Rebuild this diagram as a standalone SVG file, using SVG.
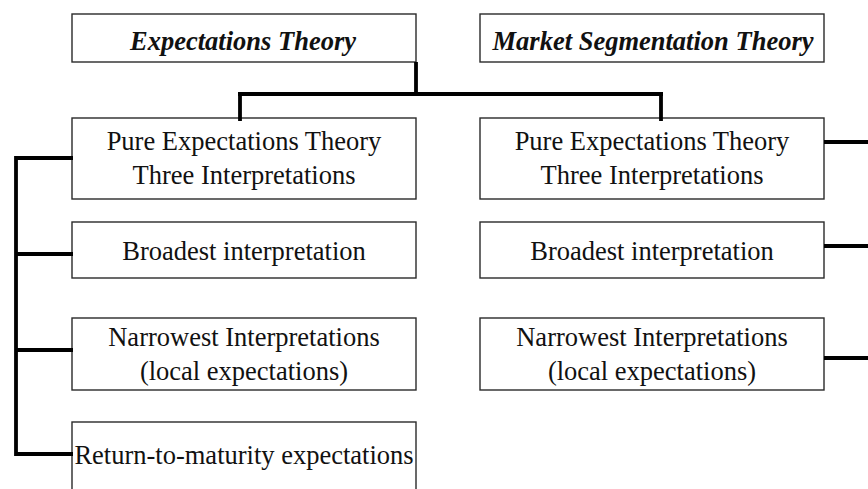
<svg xmlns="http://www.w3.org/2000/svg" width="868" height="489" viewBox="0 0 868 489">
<style>
.box{fill:#fff;stroke:#2a2a2a;stroke-width:1.4}
.t{font-family:"Liberation Serif","Times New Roman",serif;font-size:26.5px;fill:#111;text-anchor:middle}
.h{font-weight:bold;font-style:italic}
.c{fill:none;stroke:#000;stroke-width:3.8;stroke-linecap:butt;stroke-linejoin:miter}
</style>
<rect width="868" height="489" fill="#fff"/>
<g id="n-expectations">
<rect class="box" x="72" y="14" width="344" height="48"/>
<text class="t h" x="243" y="50">Expectations Theory</text>
</g>
<g id="n-market">
<rect class="box" x="480" y="14" width="344" height="48"/>
<text class="t h" x="653" y="50">Market Segmentation Theory</text>
</g>
<g id="n-pure-left">
<rect class="box" x="72" y="118" width="344" height="81"/>
<text class="t" x="244" y="150">Pure Expectations Theory</text>
<text class="t" x="244" y="184">Three Interpretations</text>
</g>
<g id="n-pure-right">
<rect class="box" x="480" y="118" width="344" height="81"/>
<text class="t" x="652" y="150">Pure Expectations Theory</text>
<text class="t" x="652" y="184">Three Interpretations</text>
</g>
<g id="n-broad-left">
<rect class="box" x="72" y="222" width="344" height="56"/>
<text class="t" x="244" y="260">Broadest interpretation</text>
</g>
<g id="n-broad-right">
<rect class="box" x="480" y="222" width="344" height="56"/>
<text class="t" x="652" y="260">Broadest interpretation</text>
</g>
<g id="n-narrow-left">
<rect class="box" x="72" y="318" width="344" height="72"/>
<text class="t" x="244" y="346">Narrowest Interpretations</text>
<text class="t" x="244" y="380">(local expectations)</text>
</g>
<g id="n-narrow-right">
<rect class="box" x="480" y="318" width="344" height="72"/>
<text class="t" x="652" y="346">Narrowest Interpretations</text>
<text class="t" x="652" y="380">(local expectations)</text>
</g>
<g id="n-return">
<rect class="box" x="72" y="422" width="344" height="80"/>
<text class="t" x="244" y="464">Return-to-maturity expectations</text>
</g>
<g id="connectors">
<path class="c" d="M416 62 V94 M238 94 H663 M240 94 V121 M661 94 V121"/>
<path class="c" d="M73 158 H16 V454 H73 M16 254 H73 M16 350 H73"/>
<path class="c" d="M824 142 H868 M824 246 H868 M824 358 H868"/>
</g>
</svg>
